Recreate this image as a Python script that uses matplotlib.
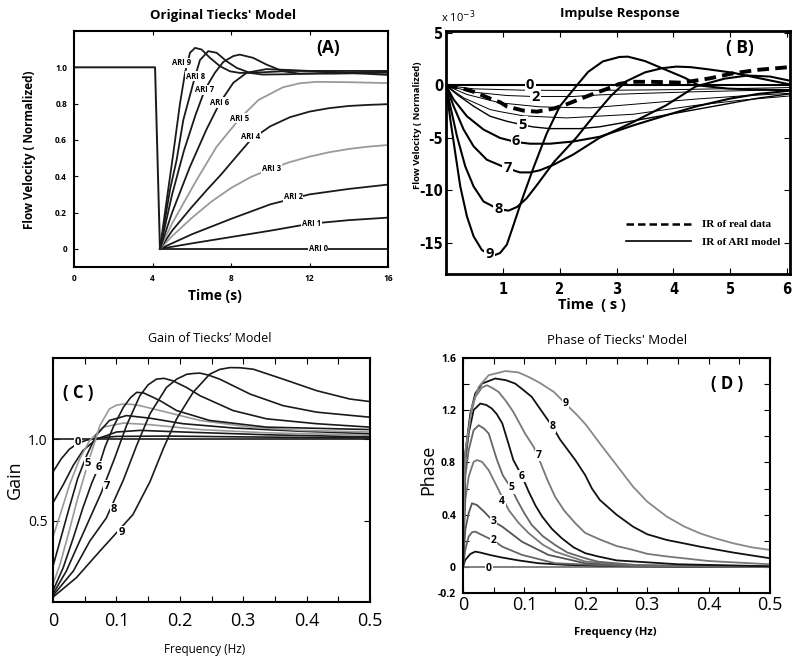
import matplotlib
matplotlib.use('Agg')
import matplotlib.pyplot as plt
from matplotlib.lines import Line2D

plt.rcParams['font.family'] = ['Open Sans', 'DejaVu Sans']
plt.rcParams['axes.unicode_minus'] = False

# ---------------- (A) step response of Tiecks' model ----------------
a_pre_t = [0, 4.13, 4.38]
a_pre_v = [1.0, 1.0, 0.0]
a_t = [
    [4.38, 16],
    [4.38, 6, 8, 10, 12, 14, 16],
    [4.38, 6, 8, 10, 12, 14, 16],
    [4.38, 5, 6, 7, 8, 9, 10, 11, 12, 13, 14, 15, 16],
    [4.38, 5, 6, 6.76, 7.5, 8.12, 9.0, 10, 11, 12, 13, 14, 15, 16],
    [4.38, 5, 6.25, 7.27, 8.46, 9.4, 10.65, 11.5, 12.35, 14, 16],
    [4.38, 5, 5.9, 6.76, 7.44, 8.12, 8.8, 9.8, 11, 13, 16],
    [4.38, 5, 5.6, 6.2, 6.67, 7.18, 7.61, 8.12, 8.45, 9.13, 9.81, 10.65, 11.5, 13.2, 16],
    [4.38, 4.9, 5.23, 5.57, 6.17, 6.42, 6.84, 7.27, 7.78, 8.29, 8.97, 9.6, 11, 13, 16],
    [4.38, 4.7, 5.06, 5.4, 5.66, 5.91, 6.17, 6.5, 6.93, 7.44, 7.95, 8.46, 9.5, 11, 16],
]
a_v = [
    [0, 0],
    [0, 0.03, 0.065, 0.10, 0.138, 0.158, 0.172],
    [0, 0.08, 0.165, 0.245, 0.30, 0.33, 0.354],
    [0, 0.07, 0.17, 0.26, 0.335, 0.395, 0.44, 0.478, 0.508, 0.532, 0.55, 0.563, 0.572],
    [0, 0.10, 0.23, 0.323, 0.41, 0.489, 0.60, 0.675, 0.725, 0.756, 0.775, 0.787, 0.793, 0.797],
    [0, 0.14, 0.38, 0.563, 0.72, 0.82, 0.89, 0.912, 0.92, 0.918, 0.913],
    [0, 0.20, 0.45, 0.66, 0.806, 0.915, 0.97, 0.99, 0.985, 0.975, 0.958],
    [0, 0.30, 0.54, 0.74, 0.877, 0.97, 1.03, 1.062, 1.07, 1.052, 1.015, 0.978, 0.965, 0.965, 0.97],
    [0, 0.33, 0.49, 0.71, 0.95, 1.04, 1.089, 1.08, 1.033, 0.997, 0.969, 0.96, 0.962, 0.97, 0.975],
    [0, 0.25, 0.526, 0.80, 0.97, 1.08, 1.107, 1.098, 1.052, 1.006, 0.978, 0.969, 0.972, 0.98, 0.98],
]
a_names = ['ARI 0', 'ARI 1', 'ARI 2', 'ARI 3', 'ARI 4', 'ARI 5', 'ARI 6', 'ARI 7', 'ARI 8', 'ARI 9']
a_lab_t = [12.44, 12.10, 11.16, 10.06, 9.0, 8.46, 7.44, 6.67, 6.17, 5.5]
a_lab_v = [0.0, 0.142, 0.286, 0.443, 0.618, 0.72, 0.806, 0.877, 0.95, 1.024]

# ---------------- (B) impulse response ----------------
b_real_t = [0, 0.25, 0.485, 0.776, 0.95, 1.07, 1.36, 1.6, 1.9, 2.12, 2.41, 2.64, 2.82, 3.05, 3.26,
            3.6, 3.96, 4.16, 4.37, 4.63, 5.04, 5.5, 5.97, 6.05]
b_real_v = [0, -0.22, -0.6, -1.25, -1.6, -2.0, -2.4, -2.5, -2.2, -1.8, -1.18, -0.7, -0.35, 0.15, 0.35,
            0.35, 0.3, 0.26, 0.45, 0.67, 1.15, 1.5, 1.72, 1.74]
b_t = [
    [0, 6.05],
    [0, 0.485, 1.36, 2.24, 3.05, 4.0, 5.0, 6.05],
    [0, 0.485, 1.07, 1.53, 2.24, 2.7, 3.5, 4.39, 5.2, 6.05],
    [0, 0.368, 0.95, 1.65, 2.12, 2.53, 3.29, 4.39, 5.2, 6.05],
    [0, 0.31, 0.776, 0.95, 1.36, 2.12, 3.29, 4.39, 5.2, 6.05],
    [0, 0.193, 0.485, 0.776, 1.07, 1.33, 1.535, 1.83, 2.35, 2.7, 3.58, 4.39, 5.0, 5.5, 6.05],
    [0, 0.134, 0.368, 0.66, 0.95, 1.23, 1.48, 1.83, 2.236, 2.7, 3.3, 3.9, 4.4, 5.0, 5.5, 6.05],
    [0, 0.134, 0.31, 0.485, 0.718, 1.07, 1.3, 1.48, 1.65, 1.88, 2.236, 2.7, 3.29, 3.87, 4.39, 4.9, 5.3,
     5.7, 6.05],
    [0, 0.076, 0.193, 0.339, 0.485, 0.66, 0.92, 1.1, 1.25, 1.42, 1.6, 1.9, 2.29, 2.6, 2.9, 3.17, 3.5,
     3.8, 4.05, 4.3, 4.6, 5.04, 5.5, 6.05],
    [0, 0.076, 0.163, 0.251, 0.368, 0.485, 0.63, 0.806, 0.95, 1.07, 1.17, 1.33, 1.535, 1.77, 2.0, 2.3,
     2.5, 2.76, 3.05, 3.2, 3.5, 3.85, 4.2, 4.45, 4.96, 5.54, 6.05],
]
b_v = [
    [0, 0],
    [0, -0.32, -0.45, -0.48, -0.45, -0.4, -0.3, -0.2],
    [0, -0.64, -0.96, -1.05, -1.05, -0.9, -0.75, -0.6, -0.5, -0.4],
    [0, -0.86, -1.66, -2.04, -2.1, -2.14, -1.8, -1.3, -1.0, -0.75],
    [0, -1.18, -2.3, -2.5, -2.9, -3.1, -2.75, -1.9, -1.4, -1.0],
    [0, -0.86, -1.98, -2.94, -3.42, -3.74, -3.96, -4.12, -4.12, -3.95, -3.1, -2.3, -1.7, -1.2, -0.8],
    [0, -1.34, -2.94, -4.21, -5.01, -5.4, -5.56, -5.56, -5.35, -4.9, -3.8, -2.8, -2.0, -1.25, -0.8, -0.5],
    [0, -1.98, -4.21, -5.81, -7.09, -7.9, -8.3, -8.3, -8.1, -7.6, -6.6, -5.0, -3.5, -1.9, -0.1, 0.65, 0.95,
     0.85, 0.45],
    [0, -1.98, -4.85, -7.73, -9.64, -11.08, -11.8, -11.95, -11.6, -10.76, -9.5, -7.3, -5.0, -2.9, -1.0,
     0.4, 1.25, 1.65, 1.8, 1.75, 1.55, 1.22, 0.7, 0.1],
    [0, -3.26, -6.45, -9.64, -12.5, -14.4, -15.7, -16.3, -16.0, -15.2, -13.6, -11.0, -7.9, -4.6, -2.0, 0.0,
     1.3, 2.3, 2.72, 2.75, 2.33, 1.53, 0.73, 0.0, -0.3, -0.4, -0.45],
]
b_lab_names = ['0', '2', '5', '6', '7', '8', '9']
b_lab_t = [1.48, 1.58, 1.35, 1.23, 1.086, 0.922, 0.765]
b_lab_v = [0.0, -1.09, -3.74, -5.33, -7.89, -11.8, -16.1]

# ---------------- (C) gain ----------------
c_f = [
    [0, 0.5],
    [0, 0.013, 0.026, 0.039, 0.053, 0.075, 0.1, 0.179, 0.3, 0.5],
    [0, 0.016, 0.032, 0.047, 0.068, 0.1, 0.137, 0.205, 0.337, 0.5],
    [0, 0.013, 0.026, 0.042, 0.058, 0.079, 0.111, 0.153, 0.232, 0.337, 0.5],
    [0, 0.011, 0.024, 0.039, 0.053, 0.068, 0.089, 0.116, 0.153, 0.205, 0.284, 0.389, 0.5],
    [0, 0.011, 0.024, 0.039, 0.055, 0.074, 0.089, 0.1, 0.111, 0.124, 0.137, 0.155, 0.179, 0.232, 0.311,
     0.389, 0.5],
    [0, 0.016, 0.032, 0.047, 0.061, 0.072, 0.082, 0.095, 0.111, 0.122, 0.132, 0.143, 0.158, 0.17, 0.195,
     0.247, 0.337, 0.5],
    [0, 0.021, 0.042, 0.063, 0.076, 0.097, 0.116, 0.137, 0.15, 0.163, 0.175, 0.189, 0.21, 0.232, 0.284,
     0.337, 0.416, 0.5],
    [0, 0.032, 0.058, 0.084, 0.111, 0.132, 0.153, 0.179, 0.195, 0.211, 0.222, 0.232, 0.245, 0.263, 0.311,
     0.363, 0.416, 0.5],
    [0, 0.037, 0.074, 0.126, 0.153, 0.174, 0.195, 0.221, 0.247, 0.263, 0.279, 0.295, 0.316, 0.363, 0.416,
     0.468, 0.5],
]
c_g = [
    [1.0, 1.0],
    [0.8, 0.88, 0.94, 0.975, 0.995, 1.01, 1.018, 1.02, 1.015, 1.008],
    [0.61, 0.72, 0.84, 0.93, 1.0, 1.045, 1.055, 1.045, 1.028, 1.015],
    [0.40, 0.557, 0.72, 0.88, 0.994, 1.075, 1.10, 1.09, 1.06, 1.04, 1.025],
    [0.22, 0.374, 0.557, 0.76, 0.90, 1.024, 1.116, 1.146, 1.13, 1.096, 1.07, 1.05, 1.035],
    [0.11, 0.23, 0.415, 0.638, 0.85, 1.085, 1.187, 1.21, 1.217, 1.215, 1.207, 1.19, 1.167, 1.116, 1.075,
     1.055, 1.045],
    [0.07, 0.21, 0.394, 0.577, 0.73, 0.83, 0.953, 1.075, 1.197, 1.255, 1.289, 1.285, 1.258, 1.235, 1.177,
     1.116, 1.075, 1.06],
    [0.05, 0.19, 0.374, 0.557, 0.67, 0.882, 1.085, 1.268, 1.335, 1.37, 1.375, 1.36, 1.32, 1.268, 1.177,
     1.126, 1.096, 1.075],
    [0.04, 0.19, 0.374, 0.516, 0.75, 0.963, 1.157, 1.319, 1.37, 1.40, 1.405, 1.407, 1.395, 1.37, 1.278,
     1.207, 1.167, 1.136],
    [0.03, 0.15, 0.313, 0.537, 0.74, 0.943, 1.126, 1.289, 1.40, 1.43, 1.441, 1.44, 1.431, 1.37, 1.299,
     1.248, 1.232],
]
c_lab_names = ['0', '5', '6', '7', '8', '9']
c_lab_f = [0.039, 0.055, 0.072, 0.085, 0.096, 0.108]
c_lab_g = [0.98, 0.852, 0.825, 0.709, 0.567, 0.425]

# ---------------- (D) phase ----------------
d_f = [
    [0, 0.5],
    [0, 0.0037, 0.0119, 0.02, 0.028, 0.045, 0.061, 0.09, 0.123, 0.17, 0.25, 0.35, 0.5],
    [0, 0.0037, 0.0092, 0.0146, 0.02, 0.025, 0.035, 0.05, 0.064, 0.096, 0.15, 0.25, 0.35, 0.5],
    [0, 0.0037, 0.0092, 0.0146, 0.0227, 0.035, 0.05, 0.064, 0.096, 0.139, 0.199, 0.28, 0.5],
    [0, 0.0037, 0.0092, 0.0173, 0.023, 0.0309, 0.0418, 0.0526, 0.0635, 0.0744, 0.09, 0.107, 0.13, 0.15,
     0.199, 0.28, 0.5],
    [0, 0.0037, 0.0092, 0.0173, 0.0255, 0.034, 0.0418, 0.047, 0.0554, 0.065, 0.079, 0.088, 0.1, 0.112,
     0.13, 0.15, 0.17, 0.199, 0.22, 0.28, 0.5],
    [0, 0.0037, 0.0092, 0.0173, 0.0282, 0.038, 0.047, 0.055, 0.064, 0.073, 0.082, 0.096, 0.107, 0.118,
     0.129, 0.145, 0.161, 0.18, 0.199, 0.22, 0.25, 0.35, 0.5],
    [0, 0.0037, 0.0119, 0.02, 0.0309, 0.0391, 0.048, 0.058, 0.07, 0.082, 0.101, 0.115, 0.126, 0.138, 0.15,
     0.165, 0.183, 0.199, 0.223, 0.25, 0.277, 0.3, 0.332, 0.4, 0.5],
    [0, 0.0037, 0.0119, 0.02, 0.0309, 0.0526, 0.07, 0.085, 0.097, 0.112, 0.129, 0.146, 0.158, 0.17, 0.183,
     0.199, 0.21, 0.223, 0.25, 0.277, 0.3, 0.332, 0.36, 0.386, 0.44, 0.5],
    [0, 0.0037, 0.0146, 0.0255, 0.0418, 0.069, 0.09, 0.107, 0.125, 0.148, 0.167, 0.186, 0.2, 0.223, 0.25,
     0.277, 0.3, 0.332, 0.36, 0.386, 0.41, 0.44, 0.47, 0.5],
]
d_p = [
    [0, 0],
    [0, 0.053, 0.099, 0.117, 0.11, 0.09, 0.074, 0.05, 0.028, 0.015, 0.006, 0.002, 0],
    [0, 0.13, 0.232, 0.265, 0.27, 0.258, 0.235, 0.201, 0.155, 0.092, 0.028, 0.008, 0.003, 0],
    [0, 0.283, 0.411, 0.487, 0.474, 0.42, 0.346, 0.308, 0.193, 0.092, 0.028, 0.008, 0],
    [0, 0.512, 0.691, 0.805, 0.818, 0.805, 0.741, 0.64, 0.538, 0.436, 0.34, 0.258, 0.17, 0.117,
     0.041, 0.01, 0],
    [0, 0.691, 0.894, 1.047, 1.085, 1.06, 1.022, 0.945, 0.818, 0.70, 0.6, 0.512, 0.41, 0.321,
     0.235, 0.168, 0.11, 0.066, 0.04, 0.015, 0],
    [0, 0.818, 1.022, 1.201, 1.251, 1.24, 1.213, 1.17, 1.099, 0.96, 0.818, 0.696, 0.576, 0.47,
     0.385, 0.29, 0.219, 0.15, 0.105, 0.08, 0.05, 0.02, 0.005],
    [0, 0.844, 1.149, 1.302, 1.374, 1.391, 1.37, 1.34, 1.27, 1.187, 1.022, 0.92, 0.80, 0.66, 0.537,
     0.43, 0.334, 0.26, 0.21, 0.16, 0.13, 0.1, 0.08, 0.045, 0.02],
    [0, 0.869, 1.175, 1.328, 1.404, 1.443, 1.43, 1.404, 1.36, 1.302, 1.187, 1.073, 0.976, 0.9, 0.818,
     0.703, 0.6, 0.512, 0.4, 0.308, 0.25, 0.206, 0.18, 0.155, 0.11, 0.066],
    [0, 0.88, 1.226, 1.379, 1.468, 1.50, 1.49, 1.455, 1.41, 1.34, 1.25, 1.162, 1.09, 0.945, 0.78,
     0.614, 0.5, 0.385, 0.31, 0.257, 0.22, 0.181, 0.15, 0.13],
]
d_lab_names = ['0', '2', '3', '4', '5', '6', '7', '8', '9']
d_lab_f = [0.042, 0.050, 0.050, 0.0635, 0.079, 0.096, 0.123, 0.146, 0.167]
d_lab_p = [-0.01, 0.201, 0.346, 0.50, 0.609, 0.696, 0.856, 1.073, 1.25]

W, H = 792, 659
fig = plt.figure(figsize=(7.92, 6.59), dpi=100)


def box(x0, y0, x1, y1):
    # pixel box (top-left origin) -> figure fraction rect
    return [x0 / W, 1 - y1 / H, (x1 - x0) / W, (y1 - y0) / H]


def ftext(x, y, s, **kw):
    fig.text(x / W, 1 - y / H, s, ha='center', va='center', **kw)


lab_box = dict(boxstyle='square,pad=0.08', fc='white', ec='none')

# ---- panel A ----
axA = fig.add_axes(box(74, 31, 388, 267))
axA.plot(a_pre_t, a_pre_v, color='#1a1a1a', lw=1.4)
for i in range(10):
    col = '#9a9a9a' if i in (3, 5) else '#1a1a1a'
    axA.plot(a_t[i], a_v[i], color=col, lw=1.3)
    axA.text(a_lab_t[i], a_lab_v[i], a_names[i], fontsize=5.5, fontweight='bold',
             ha='center', va='center', bbox=lab_box, zorder=5)
axA.set_xlim(0, 16)
axA.set_ylim(-0.1, 1.2)
axA.set_xticks([0, 4, 8, 12, 16])
axA.set_yticks([0, 0.2, 0.4, 0.6, 0.8, 1.0])
axA.set_yticklabels(['0', '0.2', '0.4', '0.6', '0.8', '1.0'])
axA.tick_params(direction='in', top=True, length=3, labelsize=6, pad=5)
for lb in axA.get_xticklabels() + axA.get_yticklabels():
    lb.set_fontweight('bold')
for s in axA.spines.values():
    s.set_linewidth(1.5)
axA.text(0.809, 0.928, '(A)', transform=axA.transAxes, fontsize=12.5, fontweight='bold',
         ha='center', va='center')
ftext(223, 15, "Original Tiecks' Model", fontsize=9.5, fontweight='bold')
ftext(30, 150, 'Flow Velocity ( Normalized)', fontsize=8.5, fontweight='bold', rotation=90)
ftext(215, 296, 'Time (s)', fontsize=10, fontweight='bold')

# ---- panel B ----
axB = fig.add_axes(box(446, 31, 790, 274))
axB.plot(b_real_t, b_real_v, color='black', lw=2.8, dashes=(3, 1.6), zorder=4)
for i in range(10):
    lw = 0.7 if i in (1, 2, 3, 4) else (1.0 if i == 5 else 1.5)
    axB.plot(b_t[i], b_v[i], color='black', lw=lw)
for s, t, v in zip(b_lab_names, b_lab_t, b_lab_v):
    axB.text(t, v, s, fontsize=10.5, fontweight='bold', ha='center', va='center',
             bbox=lab_box, zorder=6)
axB.set_xlim(0, 6.05)
axB.set_ylim(-18, 5.2)
axB.set_xticks([1, 2, 3, 4, 5, 6])
axB.set_yticks([-15, -10, -5, 0, 5])
axB.tick_params(direction='in', top=True, right=True, length=4, labelsize=10.5, pad=2)
axB.tick_params(axis='x', pad=6)
for lb in axB.get_xticklabels() + axB.get_yticklabels():
    lb.set_fontweight('bold')
    lb.set_family(['Liberation Sans Narrow', 'DejaVu Sans'])
    lb.set_fontstretch('condensed')
for s in axB.spines.values():
    s.set_linewidth(2)
handles = [Line2D([], [], color='black', lw=1.8, dashes=(3, 1.6)),
           Line2D([], [], color='black', lw=1.2)]
axB.legend(handles, ['IR of real data', 'IR of ARI model'], loc='lower right',
           bbox_to_anchor=(1.0, 0.07), frameon=False, handlelength=5.8, handletextpad=1.0,
           labelspacing=0.7,
           prop={'family': ['Liberation Serif', 'DejaVu Serif'], 'weight': 'bold', 'size': 8})
axB.text(0.855, 0.93, '( B)', transform=axB.transAxes, fontsize=12.5, fontweight='bold',
         ha='center', va='center')
ftext(458, 17, r'x 10$^{-3}$', fontsize=8)
ftext(620, 14, 'Impulse Response', fontsize=9.5, fontweight='bold')
ftext(418, 125, 'Flow Velocity ( Normalized)', fontsize=6.8, fontweight='bold', rotation=90)
ftext(592, 305, 'Time  ( s )', fontsize=10.5, fontweight='bold')

# ---- panel C ----
axC = fig.add_axes(box(53, 358, 370, 602))
for i in range(10):
    col = '#999999' if i in (3, 5) else '#1a1a1a'
    axC.plot(c_f[i], c_g[i], color=col, lw=1.2)
for s, f, g in zip(c_lab_names, c_lab_f, c_lab_g):
    axC.text(f, g, s, fontsize=8, fontweight='bold', ha='center', va='center',
             bbox=lab_box, zorder=6)
axC.set_xlim(0, 0.5)
axC.set_ylim(0, 1.5)
axC.set_xticks([0, 0.05, 0.1, 0.15, 0.2, 0.25, 0.3, 0.35, 0.4, 0.45, 0.5])
axC.set_xticklabels(['0', '', '0.1', '', '0.2', '', '0.3', '', '0.4', '', '0.5'])
axC.set_yticks([0.5, 1.0])
axC.set_yticklabels(['0.5', '1.0'])
axC.tick_params(axis='x', direction='in', top=True, length=4, labelsize=13, pad=7)
axC.tick_params(axis='y', direction='in', right=True, length=4, labelsize=10, pad=4)
for s in axC.spines.values():
    s.set_linewidth(1.5)
axC.text(0.079, 0.857, '( C )', transform=axC.transAxes, fontsize=12, fontweight='bold',
         ha='center', va='center')
ftext(210, 338, "Gain of Tiecks\u2019 Model", fontsize=9)
ftext(15, 480, 'Gain', fontsize=13, rotation=90)
ftext(205, 649, 'Frequency (Hz)', fontsize=8.5)

# ---- panel D ----
axD = fig.add_axes(box(463, 358, 770, 593))
d_cols = ['#777777', '#111111', '#666666', '#555555', '#777777',
          '#666666', '#111111', '#777777', '#111111', '#888888']
for i in range(10):
    axD.plot(d_f[i], d_p[i], color=d_cols[i], lw=1.3)
for s, f, p in zip(d_lab_names, d_lab_f, d_lab_p):
    axD.text(f, p, s, fontsize=7.5, fontweight='bold', ha='center', va='center',
             bbox=lab_box, zorder=6)
axD.set_xlim(0, 0.5)
axD.set_ylim(-0.2, 1.6)
axD.set_xticks([0, 0.05, 0.1, 0.15, 0.2, 0.25, 0.3, 0.35, 0.4, 0.45, 0.5])
axD.set_xticklabels(['0', '', '0.1', '', '0.2', '', '0.3', '', '0.4', '', '0.5'])
axD.set_yticks([-0.2, 0, 0.2, 0.4, 0.6, 0.8, 1.0, 1.2, 1.4, 1.6])
axD.set_yticklabels(['-0.2', '0', '', '0.4', '', '0.8', '', '1.2', '', '1.6'])
axD.tick_params(axis='x', direction='in', top=True, length=4, labelsize=13, pad=2)
axD.tick_params(axis='y', direction='in', right=True, length=4, labelsize=7.5, pad=5)
for lb in axD.get_yticklabels():
    lb.set_fontweight('bold')
for s in axD.spines.values():
    s.set_linewidth(1.5)
axD.text(0.86, 0.89, '( D )', transform=axD.transAxes, fontsize=12, fontweight='bold',
         ha='center', va='center')
ftext(617, 340, "Phase of Tiecks' Model", fontsize=9.5)
ftext(428, 470, 'Phase', fontsize=13, rotation=90)
ftext(615, 632, 'Frequency (Hz)', fontsize=8, fontweight='bold')

fig.savefig('out.png', dpi=100)
